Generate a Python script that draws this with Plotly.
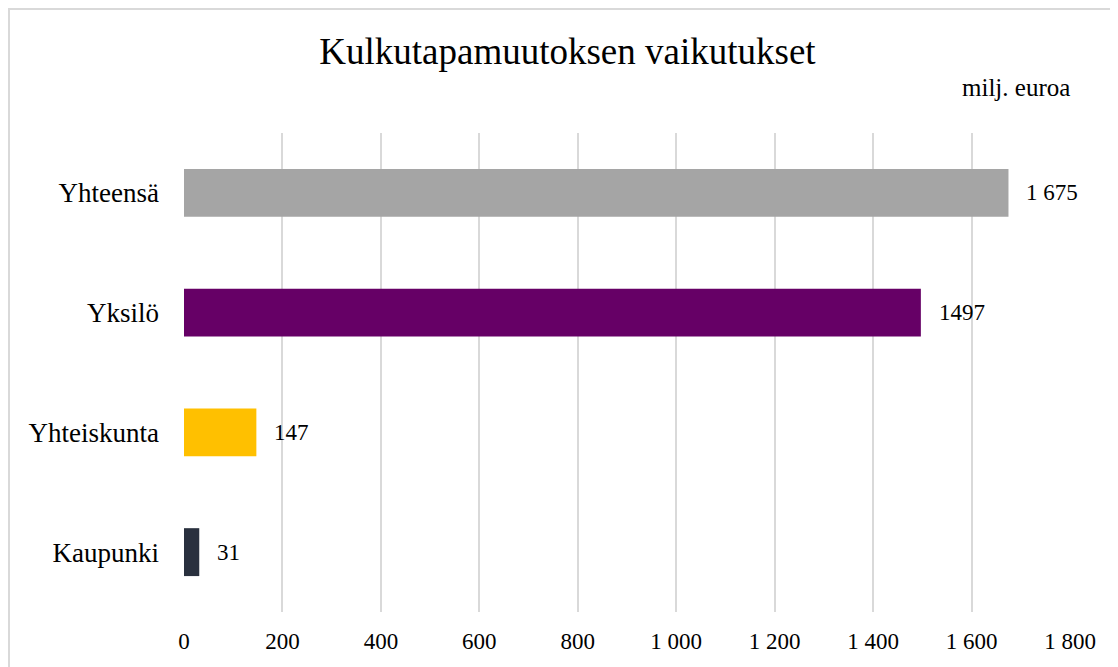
import plotly.graph_objects as go

categories = ["Yhteensä", "Yksilö", "Yhteiskunta", "Kaupunki"]
values = [1675, 1497, 147, 31]
value_labels = ["1 675", "1497", "147", "31"]
bar_colors = ["#A5A5A5", "#660066", "#FFC000", "#29303E"]
tick_vals = [0, 200, 400, 600, 800, 1000, 1200, 1400, 1600, 1800]
tick_text = ["0", "200", "400", "600", "800", "1 000", "1 200", "1 400", "1 600", "1 800"]

FONT = "Liberation Serif"

fig = go.Figure(go.Bar(
    x=values, y=categories, orientation="h",
    marker={"color": bar_colors, "line": {"width": 0}},
    width=0.4, hoverinfo="x+y",
))

# Why: value labels sit a little off the bar end, like the original.
for cat, val, lab in zip(categories, values, value_labels):
    fig.add_annotation(
        x=val, y=cat, text=lab, showarrow=False,
        xanchor="left", xshift=16, font={"family": FONT, "size": 23, "color": "#000"},
    )

fig.add_annotation(
    x=1.0, y=1.0, xref="paper", yref="paper", yshift=46, xshift=2,
    text="milj. euroa", showarrow=False, xanchor="right", yanchor="middle",
    font={"family": FONT, "size": 25, "color": "#000"},
)

# Outer border of the chart area
fig.add_shape(
    type="rect", xref="paper", yref="paper",
    x0=-0.1975, x1=1.08, y0=-0.15, y1=1.2589,
    line={"color": "#D9D9D9", "width": 2}, layer="below",
)

fig.update_layout(
    width=1118, height=667,
    margin={"l": 176, "r": 56, "t": 125, "b": 63, "autoexpand": False},
    paper_bgcolor="white", plot_bgcolor="white",
    font={"family": FONT, "color": "#000"},
    title={"text": "Kulkutapamuutoksen vaikutukset", "x": 0.5004, "xanchor": "center",
           "xref": "container", "y": 0.935, "yanchor": "middle",
           "font": {"family": FONT, "size": 37, "color": "#000"}},
    showlegend=False,
    xaxis={
        "range": [0, 1800], "tickvals": tick_vals, "ticktext": tick_text,
        "showgrid": True, "gridcolor": "#D9D9D9", "gridwidth": 1.5,
        "zeroline": False, "showline": False, "automargin": False,
        "tickfont": {"family": FONT, "size": 23}, "ticklabelstandoff": 13,
    },
    yaxis={
        "categoryorder": "array", "categoryarray": categories[::-1],
        "range": [-0.5, 3.5], "showgrid": False, "zeroline": False,
        "showline": False, "automargin": False,
        "tickfont": {"family": FONT, "size": 27}, "ticklabelstandoff": 24,
    },
)

fig.write_html("out.html")
